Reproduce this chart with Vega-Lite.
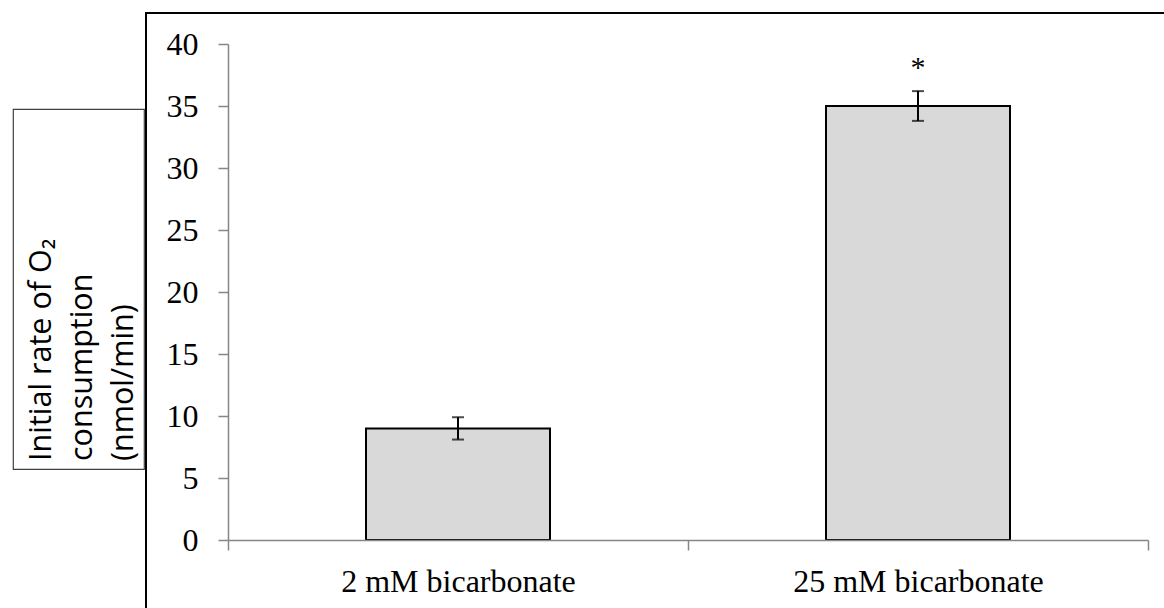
{
  "$schema": "https://vega.github.io/schema/vega-lite/v6.json",
  "padding": {"left": 12, "top": 12, "right": 0, "bottom": 0},
  "background": "white",
  "spacing": 0,
  "hconcat": [
    {
      "spacing": 0,
      "vconcat": [
        {
          "width": 131,
          "height": 95,
          "view": {"stroke": null},
          "data": {"values": [{"label": ""}]},
          "mark": {"type": "text", "opacity": 0},
          "encoding": {"text": {"field": "label"}}
        },
        {
          "width": 131,
          "height": 360,
          "view": {"stroke": "#404040", "strokeWidth": 1.2},
          "data": {"values": [{"label": "y"}]},
          "mark": {"type": "text", "angle": 270, "align": "left", "baseline": "middle", "font": "Open Sans", "fontSize": 30.5, "lineHeight": 41, "dx": -172, "dy": -37, "color": "black"},
          "encoding": {"text": {"value": ["Initial rate of O₂", "consumption", "(nmol/min)"]}}
        }
      ]
    },
    {
      "width": 1030,
      "height": 606,
      "view": {"stroke": "black", "strokeWidth": 2},
      "data": {"values": [
        {"group": "2 mM bicarbonate", "rate": 9.0, "sem": 0.9, "sig": ""},
        {"group": "25 mM bicarbonate", "rate": 35.0, "sem": 1.2, "sig": "*"}
      ]},
      "encoding": {
        "x": {"field": "group", "type": "nominal", "sort": null,
          "scale": {"range": [82, 1002], "paddingInner": 0, "paddingOuter": 0},
          "axis": {"orient": "bottom", "offset": -79, "title": null, "labelAngle": 0, "labelLimit": 0, "labelFont": "Liberation Serif", "labelFontSize": 32, "labelColor": "black", "labelPadding": 16, "tickSize": 10, "tickBand": "extent", "tickColor": "#868686", "tickWidth": 1.5, "domainColor": "#868686", "domainWidth": 1.5, "zindex": 1}},
        "y": {"field": "rate", "type": "quantitative",
          "scale": {"domain": [0, 40], "range": [527, 31], "nice": false, "zero": true},
          "axis": {"orient": "left", "offset": -82, "values": [0, 5, 10, 15, 20, 25, 30, 35, 40], "title": null, "grid": false, "labelFont": "Liberation Serif", "labelFontSize": 32, "labelColor": "black", "labelPadding": 20, "tickSize": 10, "tickColor": "#868686", "tickWidth": 1.5, "domainColor": "#868686", "domainWidth": 1.5, "zindex": 1, "labelFlush": false, "labelOverlap": false}}
      },
      "layer": [
        {"mark": {"type": "bar", "fill": "#d9d9d9", "stroke": "black", "strokeWidth": 2, "width": {"band": 0.4}}},
        {"mark": {"type": "errorbar", "color": "black", "thickness": 2, "ticks": {"size": 12, "thickness": 2, "color": "black"}},
         "encoding": {"yError": {"field": "sem"}}},
        {"mark": {"type": "text", "font": "Liberation Serif", "fontSize": 30, "dy": -38, "baseline": "middle", "color": "black"},
         "encoding": {"text": {"field": "sig"}}}
      ]
    }
  ]
}
